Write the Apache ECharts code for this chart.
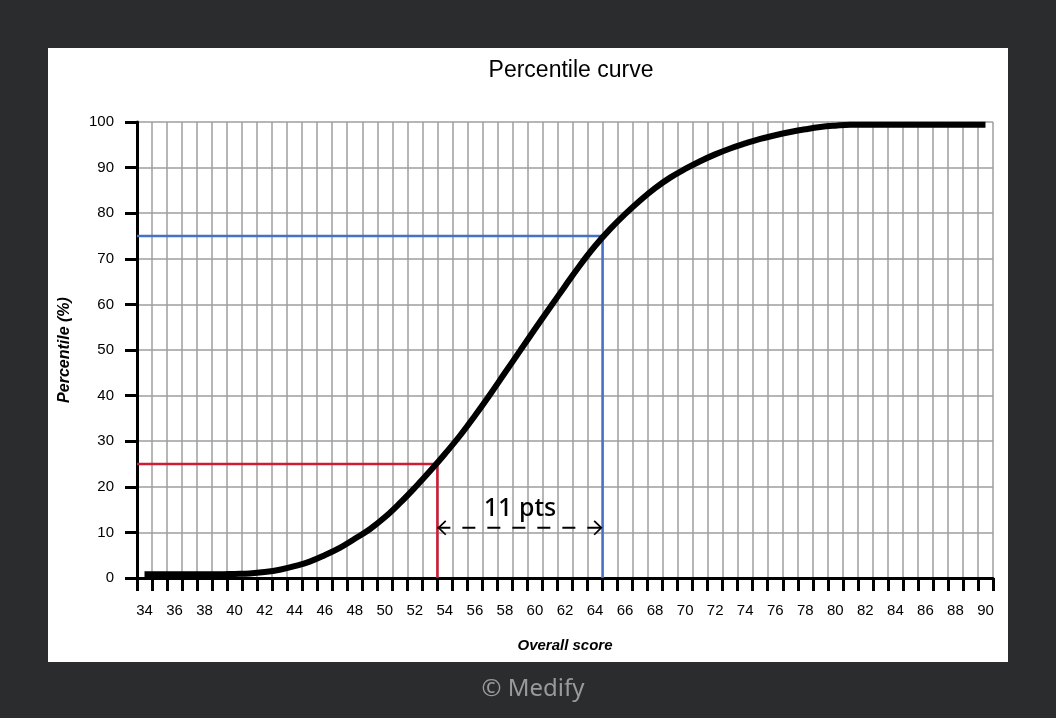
<!DOCTYPE html>
<html>
<head>
<meta charset="utf-8">
<script src="https://cdn.jsdelivr.net/npm/echarts@6/dist/echarts.min.js"></script>
<style>
  html, body { margin: 0; padding: 0; background: #2b2c2e; }
  #main { width: 1056px; height: 718px; }
</style>
</head>
<body>
<div id="main"></div>
<script>
// overall score categories (x axis labels)
var scores = [];
for (var s = 34; s <= 90; s++) scores.push(String(s));

// percentile, one per score 34..90
var percentile = [
  0.8, 0.8, 0.8, 0.8, 0.8, 0.8, 0.9, 1.0, 1.3, 1.8,
  2.6, 3.6, 5.0, 6.6, 8.6, 10.7, 13.3, 16.4, 19.8, 23.4,
  27.2, 31.2, 35.6, 40.2, 45.0, 49.8, 54.6, 59.3, 64.0, 68.6,
  72.8, 76.5, 79.8, 82.8, 85.5, 87.8, 89.7, 91.4, 92.9, 94.2,
  95.3, 96.3, 97.1, 97.8, 98.4, 98.9, 99.2, 99.4, 99.4, 99.4,
  99.4, 99.4, 99.4, 99.4, 99.4, 99.4, 99.4
];

// reading lines: 25th and 75th percentile
var lowMark = [[33.5, 25], [53.5, 25], [53.5, 0]];
var highMark = [[33.5, 75], [64.5, 75], [64.5, 0]];
var gapY = 11;
var gapLabel = '11 pts';

var curve = [];
for (var i = 0; i < scores.length; i++) {
  curve.push([Number(scores[i]), percentile[i]]);
}

var chevL = 'path://M10,0 L11.6,1.6 L3.2,10 L11.6,18.4 L10,20 L0,10 Z';
var chevR = 'path://M1.6,0 L0,1.6 L8.4,10 L0,18.4 L1.6,20 L11.6,10 Z';

var font = 'Liberation Sans, Arial, sans-serif';
var chart = echarts.init(document.getElementById('main'));

chart.setOption({
  backgroundColor: '#2b2c2e',
  animation: false,
  graphic: [{
    type: 'rect',
    shape: { x: 48, y: 48, width: 960, height: 614 },
    style: { fill: '#ffffff' },
    z: -10
  }],
  title: [{
    text: 'Percentile curve',
    left: 566,
    top: 54,
    textAlign: 'center',
    textStyle: { fontFamily: font, fontSize: 23, fontWeight: 'normal', color: '#000' }
  }, {
    text: '© Medify',
    left: 528,
    top: 672,
    textAlign: 'center',
    textStyle: { fontFamily: 'Noto Sans, sans-serif', fontSize: 24, fontWeight: 'normal', color: '#9a9a9a' }
  }],
  grid: { left: 137, top: 122, right: 63, bottom: 140 },
  xAxis: [{
    type: 'category',
    data: scores,
    boundaryGap: true,
    name: 'Overall score',
    nameLocation: 'middle',
    nameGap: 60,
    nameTextStyle: { fontFamily: font, fontSize: 15, fontWeight: 'bold', fontStyle: 'italic', color: '#000' },
    axisLine: { lineStyle: { color: '#000', width: 3 } },
    axisTick: { show: true, interval: 0, length: 13, lineStyle: { color: '#000', width: 3 } },
    axisLabel: { interval: 1, margin: 25, fontFamily: font, fontSize: 15, color: '#000' },
    splitLine: { show: true, interval: 0, lineStyle: { color: '#9e9e9e', width: 1.5 } }
  }, {
    type: 'value',
    min: 33.5,
    max: 90.5,
    show: false,
    splitLine: { show: false }
  }],
  yAxis: {
    type: 'value',
    min: 0,
    max: 100,
    interval: 10,
    name: 'Percentile (%)',
    nameLocation: 'middle',
    nameGap: 64,
    nameTextStyle: { fontFamily: font, fontSize: 16, fontWeight: 'bold', fontStyle: 'italic', color: '#000' },
    axisLine: { show: true, lineStyle: { color: '#000', width: 3 } },
    axisTick: { show: true, length: 12, lineStyle: { color: '#000', width: 3 } },
    axisLabel: { margin: 23, fontFamily: font, fontSize: 15, color: '#000' },
    splitLine: { show: true, lineStyle: { color: '#9e9e9e', width: 1.5 } }
  },
  series: [{
    type: 'line',
    xAxisIndex: 1,
    data: lowMark,
    symbol: 'none',
    lineStyle: { color: '#d01c33', width: 2.5 },
    z: 3
  }, {
    type: 'line',
    xAxisIndex: 1,
    data: highMark,
    symbol: 'none',
    lineStyle: { color: '#4472c9', width: 2.5 },
    z: 3
  }, {
    type: 'line',
    xAxisIndex: 1,
    data: curve,
    smooth: 0.4,
    symbol: 'none',
    lineStyle: { color: '#000', width: 6, cap: 'butt' },
    z: 4
  }, {
    type: 'line',
    xAxisIndex: 1,
    data: [
      { value: [lowMark[1][0], gapY], symbol: chevL, symbolSize: [9, 15], symbolOffset: [4.5, 0] },
      { value: [highMark[1][0], gapY], symbol: chevR, symbolSize: [9, 15], symbolOffset: [-4.5, 0] }
    ],
    showSymbol: true,
    itemStyle: { color: '#000' },
    lineStyle: { color: '#000', width: 2, type: [13, 12] },
    z: 5
  }, {
    type: 'scatter',
    xAxisIndex: 1,
    data: [[(lowMark[1][0] + highMark[1][0]) / 2, gapY]],
    symbolSize: 2,
    itemStyle: { color: 'rgba(0,0,0,0)' },
    label: {
      show: true,
      formatter: gapLabel,
      position: 'top',
      distance: 5,
      fontFamily: 'Noto Sans, sans-serif',
      fontSize: 25,
      fontWeight: 500,
      color: '#000',
      opacity: 1
    },
    z: 6
  }]
});
</script>
</body>
</html>
